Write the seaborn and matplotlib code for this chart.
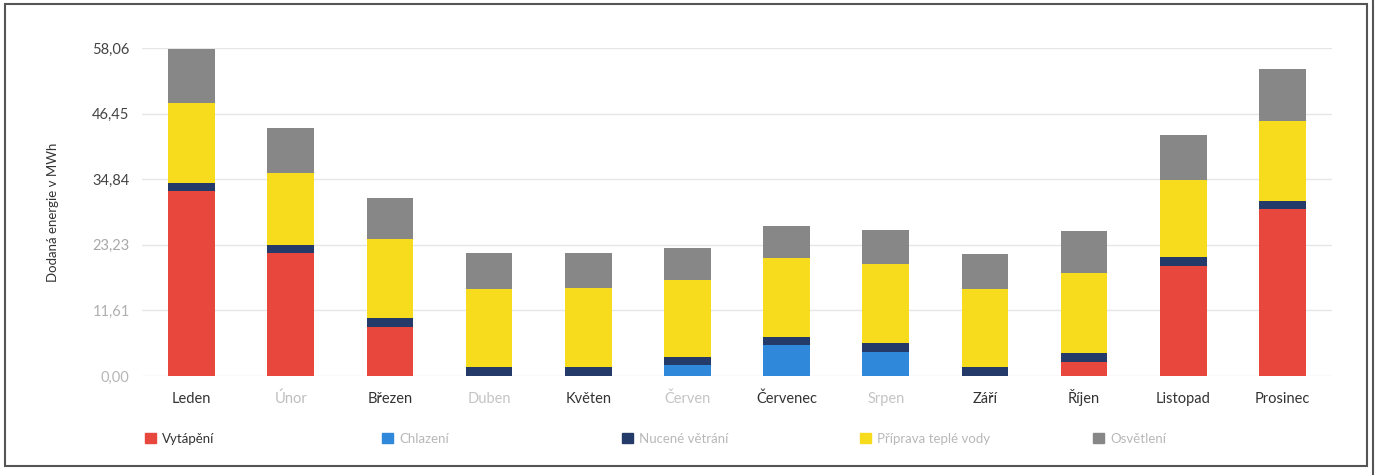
import numpy as np
import matplotlib
matplotlib.use("Agg")
import matplotlib.pyplot as plt
import seaborn as sns
from matplotlib.patches import Patch, Rectangle
from matplotlib.lines import Line2D

# monthly delivered energy (MWh), stacked bottom -> top
months = ["Leden", "Únor", "Březen", "Duben", "Květen", "Červen",
          "Červenec", "Srpen", "Září", "Říjen", "Listopad", "Prosinec"]
vytapeni = [32.8, 21.7, 8.7, 0.0, 0.0, 0.0, 0.0, 0.0, 0.0, 2.5, 19.5, 29.5]
chlazeni = [0.0, 0.0, 0.0, 0.0, 0.0, 1.9, 5.5, 4.2, 0.0, 0.0, 0.0, 0.0]
vetrani = [1.3, 1.5, 1.6, 1.6, 1.6, 1.4, 1.4, 1.6, 1.6, 1.6, 1.6, 1.4]
tepla_voda = [14.2, 12.7, 14.0, 13.8, 14.0, 13.7, 13.9, 14.1, 13.8, 14.2, 13.6, 14.2]
osvetleni = [9.6, 8.0, 7.2, 6.4, 6.2, 5.6, 5.8, 5.9, 6.2, 7.3, 8.0, 9.3]

series_names = ["Vytápění", "Chlazení", "Nucené větrání", "Příprava teplé vody", "Osvětlení"]
series_vals = [vytapeni, chlazeni, vetrani, tepla_voda, osvetleni]
colors = ["#E8473D", "#2F88DA", "#243B6A", "#F7DC1E", "#878787"]

y_ticks = [0.00, 11.61, 23.23, 34.84, 46.45, 58.06]

# scan artefact: some labels came out faded
month_label_colors = ["#333333", "#bdbdbd", "#333333", "#c4c4c4", "#333333", "#c4c4c4",
                      "#333333", "#c4c4c4", "#333333", "#333333", "#333333", "#333333"]
ytick_label_colors = ["#b5b5b5", "#b0b0b0", "#a8a8a8", "#444444", "#444444", "#444444"]
legend_label_colors = ["#333333", "#b8b8b8", "#b8b8b8", "#b8b8b8", "#b8b8b8"]

sns.set_theme(style="white")
plt.rcParams["font.family"] = ["Lato", "DejaVu Sans"]

fig = plt.figure(figsize=(13.84, 4.75), dpi=100)
ax = fig.add_axes([142 / 1384, 1 - 376 / 475, 1190 / 1384, 328 / 475])

# stacked bars: draw cumulative totals from the top layer down
cum = np.cumsum(np.array(series_vals), axis=0)
for i in range(len(series_names) - 1, -1, -1):
    sns.barplot(x=months, y=cum[i], color=colors[i], width=0.47,
                saturation=1, linewidth=0, ax=ax, zorder=3)

ax.set_ylim(0, 58.06)
ax.set_yticks(y_ticks)
ax.set_yticklabels([f"{v:.2f}".replace(".", ",") for v in y_ticks], fontsize=10.5)
for lbl, c in zip(ax.get_yticklabels(), ytick_label_colors):
    lbl.set_color(c)
ax.tick_params(axis="y", length=0, pad=9)
ax.tick_params(axis="x", length=0, pad=19.5, labelsize=10.5)
for lbl, c in zip(ax.get_xticklabels(), month_label_colors):
    lbl.set_color(c)
    lbl.set_verticalalignment("baseline")

ax.yaxis.grid(True, color="#e6e6e6", linewidth=1, zorder=0)
ax.set_axisbelow(True)
for s in ax.spines.values():
    s.set_visible(False)
ax.set_xlabel("")
ax.set_ylabel("Dodaná energie v MWh", fontsize=9.5, color="#333333", labelpad=24)

# legend: five evenly spaced entries
leg_x = [140, 377, 617, 855, 1088]
for name, col, tc, x in zip(series_names, colors, legend_label_colors, leg_x):
    leg = fig.legend(handles=[Patch(color=col, label=name)], loc="center left",
                     bbox_to_anchor=(x / 1384, 1 - 439 / 475), frameon=False,
                     handlelength=0.8, handleheight=0.8, handletextpad=0.5,
                     fontsize=9.5, borderaxespad=0)
    for t in leg.get_texts():
        t.set_color(tc)

# page frame from the scanned document
fig.patches.append(Rectangle((5 / 1384, 9 / 475), 1362 / 1384, 462 / 475,
                             transform=fig.transFigure, fill=False,
                             edgecolor="#555555", linewidth=1.5))
fig.lines.append(Line2D([1373 / 1384, 1373 / 1384], [0, 1], transform=fig.transFigure,
                        color="#555555", linewidth=1.5))

fig.savefig("out.png", dpi=100, facecolor="white")
